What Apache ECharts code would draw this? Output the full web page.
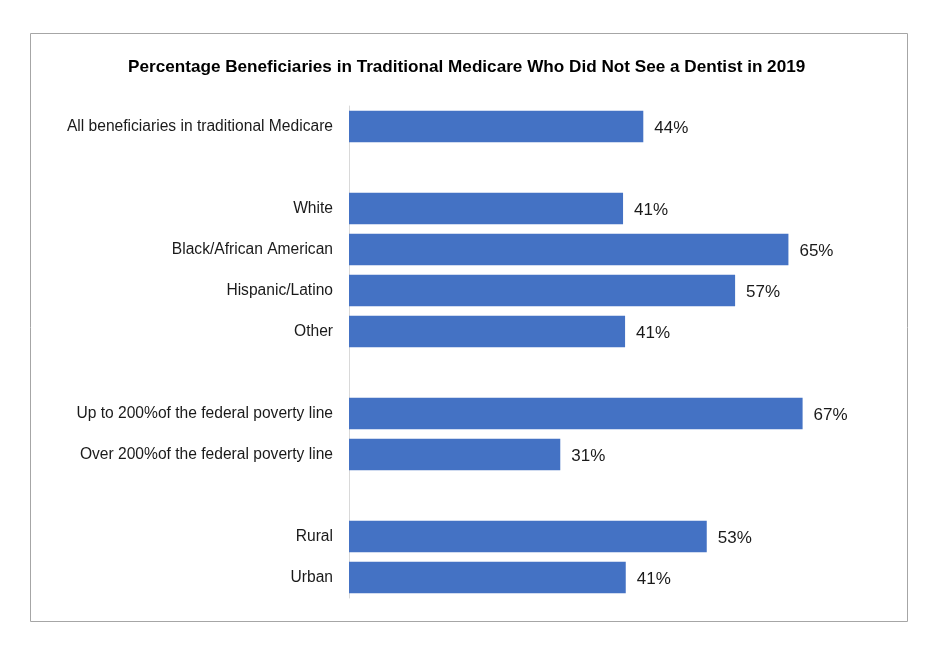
<!DOCTYPE html>
<html>
<head>
<meta charset="utf-8">
<script src="https://cdn.jsdelivr.net/npm/echarts@6/dist/echarts.min.js"></script>
<style>
html,body{margin:0;padding:0;background:#fff;}
#c{width:932px;height:649px;}
</style>
</head>
<body>
<div id="c"></div>
<script>
const categories = [
  'All beneficiaries in traditional Medicare',
  '',
  'White',
  'Black/African American',
  'Hispanic/Latino',
  'Other',
  ' ',
  'Up to 200%of the federal poverty line',
  'Over 200%of the federal poverty line',
  '  ',
  'Rural',
  'Urban'
];
const values = [43.6, null, 40.6, 65.1, 57.2, 40.9, null, 67.2, 31.3, null, 53.0, 41.0];
const titleText = 'Percentage Beneficiaries in Traditional Medicare Who Did Not See a Dentist in 2019';

const FONT = '"Liberation Sans", Arial, sans-serif';
const chart = echarts.init(document.getElementById('c'), null, {renderer: 'canvas'});
chart.setOption({
  animation: false,
  backgroundColor: '#fff',
  textStyle: {fontFamily: FONT},
  graphic: [{
    type: 'rect',
    shape: {x: 30.5, y: 33.5, width: 877, height: 588},
    style: {fill: 'none', stroke: '#a6a6a6', lineWidth: 1},
    silent: true
  }],
  title: {
    text: titleText,
    left: 123, top: 54,
    textStyle: {fontSize: 17.15, fontWeight: 'bold', color: '#000', fontFamily: FONT}
  },
  grid: {left: 349, top: 106, right: 110.5, bottom: 51, containLabel: false},
  xAxis: {type: 'value', min: 0, max: 70, show: false},
  yAxis: {
    type: 'category', data: categories, inverse: true,
    axisLine: {show: true, lineStyle: {color: '#d9d9d9', width: 1}},
    axisTick: {show: false},
    axisLabel: {fontSize: 15.6, color: '#1a1a1a', margin: 16, fontFamily: FONT}
  },
  series: [{
    type: 'bar', data: values, barCategoryGap: '23%',
    itemStyle: {color: '#4472c4'},
    label: {show: true, position: 'right', distance: 11, offset: [0, 2],
      formatter: p => p.value == null ? '' : Math.round(p.value) + '%',
      fontSize: 17, color: '#1a1a1a', fontFamily: FONT}
  }]
});
</script>
</body>
</html>
